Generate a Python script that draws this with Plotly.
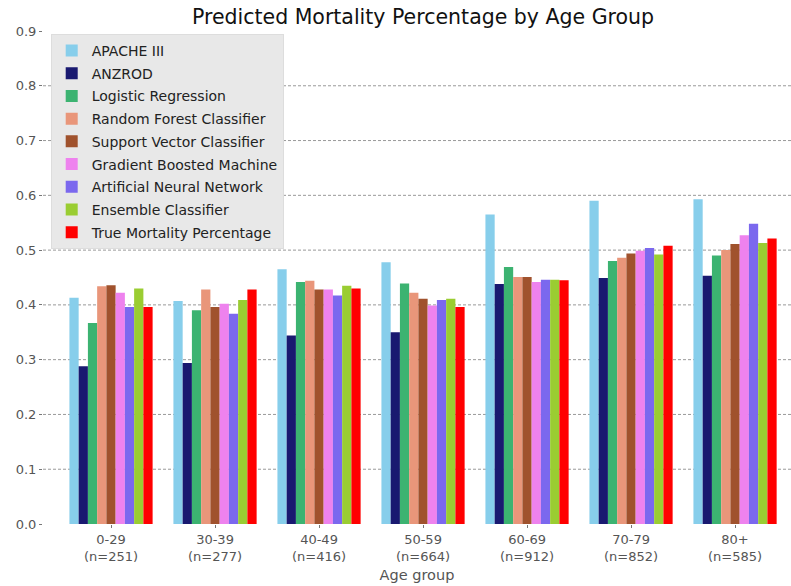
import plotly.graph_objects as go

categories = ["0-29<br>(n=251)", "30-39<br>(n=277)", "40-49<br>(n=416)", "50-59<br>(n=664)",
              "60-69<br>(n=912)", "70-79<br>(n=852)", "80+<br>(n=585)"]

apache = [0.413, 0.407, 0.465, 0.478, 0.565, 0.590, 0.593]
anzrod = [0.288, 0.294, 0.344, 0.350, 0.438, 0.449, 0.453]
logistic = [0.367, 0.390, 0.442, 0.439, 0.469, 0.480, 0.490]
random_forest = [0.434, 0.428, 0.444, 0.422, 0.451, 0.486, 0.500]
svc = [0.436, 0.396, 0.428, 0.411, 0.451, 0.494, 0.511]
gbm = [0.422, 0.402, 0.428, 0.399, 0.442, 0.499, 0.527]
ann = [0.396, 0.384, 0.417, 0.409, 0.446, 0.504, 0.548]
ensemble = [0.430, 0.409, 0.435, 0.411, 0.446, 0.492, 0.513]
true_mort = [0.396, 0.428, 0.430, 0.396, 0.445, 0.508, 0.521]

series_names = ["APACHE III", "ANZROD", "Logistic Regression", "Random Forest Classifier",
                "Support Vector Classifier", "Gradient Boosted Machine",
                "Artificial Neural Network", "Ensemble Classifier", "True Mortality Percentage"]
series_values = [apache, anzrod, logistic, random_forest, svc, gbm, ann, ensemble, true_mort]
colors = ["#87CEEB", "#191970", "#3CB371", "#E9967A", "#A0522D", "#EE82EE",
          "#7B68EE", "#9ACD32", "#FF0000"]

y_ticks = [0.0, 0.1, 0.2, 0.3, 0.4, 0.5, 0.6, 0.7, 0.8, 0.9]
grid_ticks = [0.1, 0.2, 0.3, 0.4, 0.5, 0.6, 0.7, 0.8]

W, H = 791, 586

fig = go.Figure()
for i, (name, vals, col) in enumerate(zip(series_names, series_values, colors)):
    fig.add_trace(go.Bar(
        x=list(range(len(categories))), y=vals, name=name,
        legendgroup=f"g{i}",
        marker=dict(color=col, line=dict(width=0)),
    ))

for v in grid_ticks:
    fig.add_hline(y=v, line=dict(color="#999999", width=1, dash="3px,2px"), layer="below")

fig.update_layout(
    width=W, height=H,
    barmode="group", bargap=0.2, bargroupgap=0,
    plot_bgcolor="white", paper_bgcolor="white",
    margin=dict(l=43, r=0, t=31, b=62, autoexpand=False),
    font=dict(family="DejaVu Sans", size=13, color="#555555"),
    title=dict(text="Predicted Mortality Percentage by Age Group",
               x=423 / W, xanchor="center", y=1 - 10 / H, yanchor="top",
               font=dict(size=20.5, color="#111111")),
    legend=dict(x=0.0103, y=0.994, xanchor="left", yanchor="top",
                bgcolor="#e8e8e8", bordercolor="#dddddd", borderwidth=1,
                font=dict(size=14, color="#222222"), traceorder="grouped",
                tracegroupgap=1.5),
)

fig.update_xaxes(
    range=[-0.654, 6.538],
    tickmode="array", tickvals=list(range(len(categories))), ticktext=categories,
    ticks="outside", ticklen=3, tickcolor="#777777",
    showgrid=False, showline=False, zeroline=False,
    tickfont=dict(size=13, color="#555555"),
    title=dict(text="Age group", font=dict(size=14.5, color="#555555"), standoff=7),
)
fig.update_yaxes(
    range=[0, 0.9],
    tickmode="array", tickvals=y_ticks, ticktext=[f"{v:.1f}" for v in y_ticks],
    ticks="outside", ticklen=3, tickcolor="#777777",
    showgrid=False, showline=False, zeroline=False,
    tickfont=dict(size=13, color="#555555"),
)

fig.write_html(
    "out.html",
    config={"displayModeBar": False},
    post_script="document.body.style.margin='0';document.body.style.overflow='hidden';",
)
